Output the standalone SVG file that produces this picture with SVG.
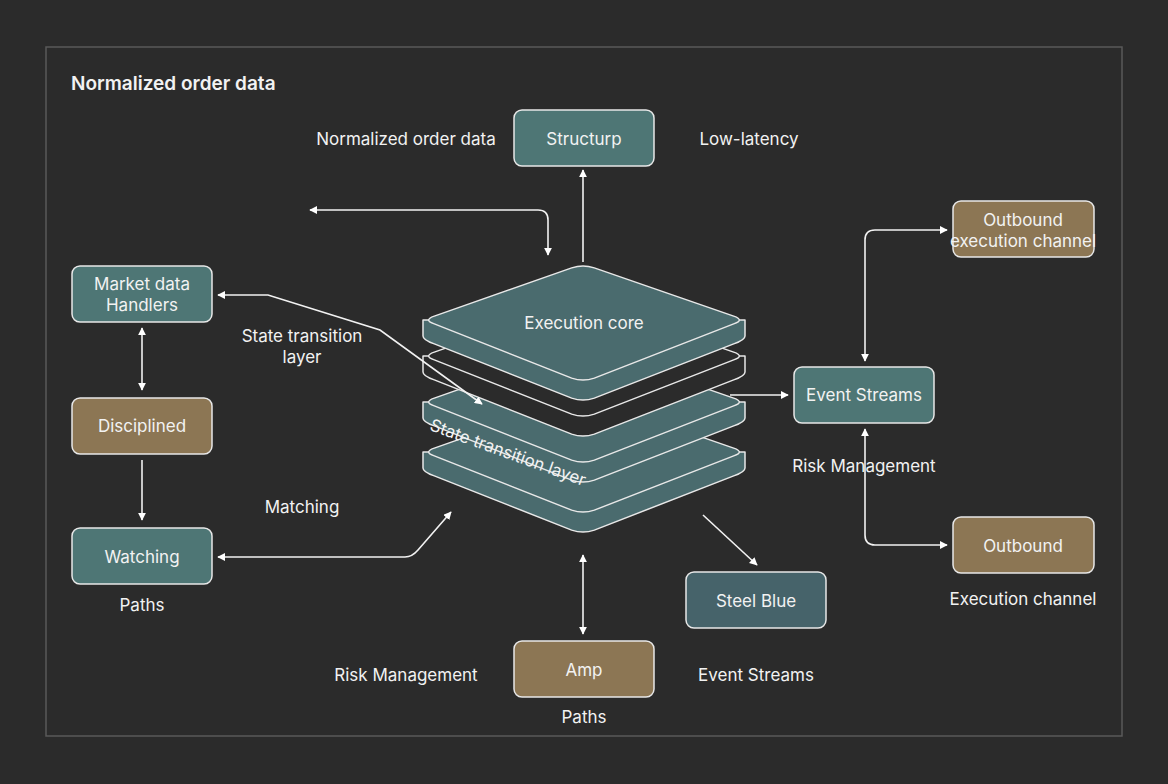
<svg xmlns="http://www.w3.org/2000/svg" width="1168" height="784" viewBox="0 0 1168 784">
<defs>
<marker id="ah" viewBox="0 0 10 10" refX="9" refY="5" markerWidth="8" markerHeight="8" markerUnits="userSpaceOnUse" orient="auto-start-reverse"><path d="M0,0 L10,5 L0,10 z" fill="#fff"/></marker>
<style>
text{font-family:"Inter","Liberation Sans",sans-serif;fill:#f2f2f2;font-size:17px;text-anchor:middle}
.teal{fill:#4e7675;stroke:#e8e8e8;stroke-width:1.5}
.gold{fill:#8c7654;stroke:#e8e8e8;stroke-width:1.5}
.slate{fill:#46636a;stroke:#e8e8e8;stroke-width:1.5}
.lay{fill:#4a6b6e;stroke:#e8e8e8;stroke-width:1.5;stroke-linejoin:round}
.dk{fill:#2b2b2b;stroke:#e8e8e8;stroke-width:1.5;stroke-linejoin:round}
.c{fill:none;stroke:#f2f2f2;stroke-width:1.6;marker-end:url(#ah)}
.b{marker-start:url(#ah)}
</style>
</defs>
<rect width="1168" height="784" fill="#2b2b2b"/>
<rect x="46" y="47" width="1076" height="689" fill="none" stroke="#5a5a5a" stroke-width="1.5"/>
<text x="71" y="90" style="text-anchor:start;font-weight:600;font-size:19px">Normalized order data</text>

<g id="stack">
<g id="layer4">
<path class="lay" d="M423,452 L423,468 Q423,472 434.3,475.9 L571.7,530.1 Q583,534 594.3,530.1 L733.7,475.9 Q745,472 745,468 L745,452 Z"/>
<path class="lay" d="M571.7,399.9 Q583,396 594.3,399.9 L733.7,448.1 Q745,452 733.7,455.9 L594.3,510.1 Q583,514 571.7,510.1 L434.3,455.9 Q423,452 434.3,448.1 Z"/>
</g>
<g id="layer3">
<path class="lay" d="M423,402 L423,418 Q423,422 434.3,425.9 L571.7,480.1 Q583,484 594.3,480.1 L733.7,425.9 Q745,422 745,418 L745,402 Z"/>
<path class="lay" d="M571.7,349.9 Q583,346 594.3,349.9 L733.7,398.1 Q745,402 733.7,405.9 L594.3,460.1 Q583,464 571.7,460.1 L434.3,405.9 Q423,402 434.3,398.1 Z"/>
</g>
<g id="layer2">
<path class="dk" d="M423,356 L423,372 Q423,376 434.3,379.9 L571.7,434.1 Q583,438 594.3,434.1 L733.7,379.9 Q745,376 745,372 L745,356 Z"/>
<path class="dk" d="M571.7,303.9 Q583,300 594.3,303.9 L733.7,352.1 Q745,356 733.7,359.9 L594.3,414.1 Q583,418 571.7,414.1 L434.3,359.9 Q423,356 434.3,352.1 Z"/>
</g>
<g id="layer1">
<path class="lay" d="M423,320 L423,336 Q423,340 434.3,343.9 L571.7,398.1 Q583,402 594.3,398.1 L733.7,343.9 Q745,340 745,336 L745,320 Z"/>
<path class="lay" d="M571.7,267.9 Q583,264 594.3,267.9 L733.7,316.1 Q745,320 733.7,323.9 L594.3,378.1 Q583,382 571.7,378.1 L434.3,323.9 Q423,320 434.3,316.1 Z"/>
<text x="584" y="329">Execution core</text>
</g>
<text x="0" y="0" transform="translate(506,458) rotate(20)">State transition layer</text>
</g>

<g id="structurp"><rect class="teal" x="514" y="110" width="140" height="56" rx="8"/><text x="584" y="145">Structurp</text></g>
<g id="market"><rect class="teal" x="72" y="266" width="140" height="56" rx="8"/><text x="142" y="290">Market data</text><text x="142" y="311">Handlers</text></g>
<g id="disciplined"><rect class="gold" x="72" y="398" width="140" height="56" rx="8"/><text x="142" y="432">Disciplined</text></g>
<g id="watching"><rect class="teal" x="72" y="528" width="140" height="56" rx="8"/><text x="142" y="563">Watching</text></g>
<g id="events"><rect class="teal" x="794" y="367" width="140" height="56" rx="8"/><text x="864" y="401">Event Streams</text></g>
<g id="outexec"><rect class="gold" x="953" y="201" width="141" height="56" rx="8"/><text x="1023" y="226">Outbound</text><text x="1023" y="247">execution channel</text></g>
<g id="outbound"><rect class="gold" x="953" y="517" width="141" height="56" rx="8"/><text x="1023" y="552">Outbound</text></g>
<g id="steel"><rect class="slate" x="686" y="572" width="140" height="56" rx="8"/><text x="756" y="607">Steel Blue</text></g>
<g id="amp"><rect class="gold" x="514" y="641" width="140" height="56" rx="8"/><text x="584" y="676">Amp</text></g>

<g id="connectors">
<path class="c" d="M583,262 L583,170"/>
<path class="c b" d="M310,210 L538,210 Q548,210 548,220 L548,255"/>
<path class="c b" d="M218,295 L268,295 L380,330 L482,404"/>
<path class="c b" d="M142,328 L142,390"/>
<path class="c" d="M142,460 L142,520"/>
<path class="c b" d="M218,557 L405,557 Q412,557 418,550 L451,512"/>
<path class="c" d="M730,395 L788,395"/>
<path class="c b" d="M947,230 L875,230 Q865,230 865,240 L865,361"/>
<path class="c b" d="M865,429 L865,535 Q865,545 875,545 L947,545"/>
<path class="c" d="M703,515 L757,565"/>
<path class="c b" d="M583,555 L583,634"/>
</g>

<text x="406" y="145">Normalized order data</text>
<text x="749" y="145">Low-latency</text>
<text x="302" y="342">State transition</text>
<text x="302" y="363">layer</text>
<text x="302" y="513">Matching</text>
<text x="142" y="611">Paths</text>
<text x="864" y="472">Risk Management</text>
<text x="1023" y="605">Execution channel</text>
<text x="406" y="681">Risk Management</text>
<text x="756" y="681">Event Streams</text>
<text x="584" y="723">Paths</text>
</svg>
